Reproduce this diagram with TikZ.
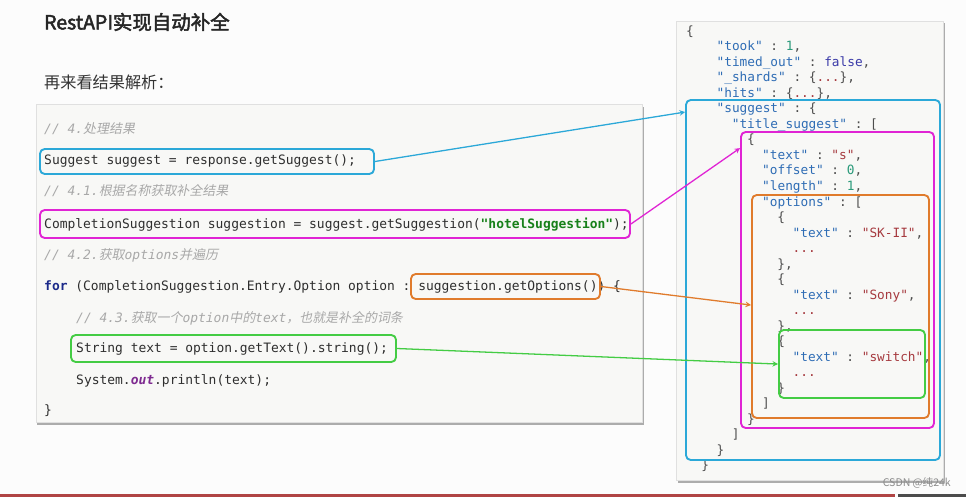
\documentclass[tikz,border=0pt]{standalone}
\usepackage{fontspec}
\setmonofont{DejaVu Sans Mono}
\newfontfamily\cjk[AutoFakeBold=2.5,AutoFakeSlant=0.2]{Noto Sans CJK SC}
\usetikzlibrary{arrows,fit,calc}

\definecolor{cblue}{HTML}{2BA8D8}
\definecolor{cmag}{HTML}{E024D4}
\definecolor{corange}{HTML}{E07B2C}
\definecolor{cgreen}{HTML}{44CC44}
\definecolor{ctext}{HTML}{2E2E2E}
\definecolor{ccom}{HTML}{A8A8A8}
\definecolor{ckey}{HTML}{2F6DB5}
\definecolor{cstr}{HTML}{A63A3F}
\definecolor{cnum}{HTML}{2A9A7A}
\definecolor{cbool}{HTML}{3A3AA8}
\definecolor{cfor}{HTML}{1B2A8A}
\definecolor{cout}{HTML}{7E2A90}
\definecolor{chotel}{HTML}{18801A}
\definecolor{cpanel}{HTML}{F8F8F6}
\definecolor{cshadow}{HTML}{ACACAC}
\definecolor{cred}{HTML}{B04444}

% json tokens
\newcommand{\jk}[1]{\textcolor{ckey}{"#1"}}
\newcommand{\js}[1]{\textcolor{cstr}{"#1"}}
\newcommand{\jn}[1]{\textcolor{cnum}{#1}}
\newcommand{\jd}{\textcolor{cstr}{...}}
% comment in java code
\newcommand{\jcom}[1]{\textcolor{ccom}{\itshape #1}}

\begin{document}
\begin{tikzpicture}[
x=0.3mm,y=-0.3mm,
>=stealth,
code/.style={
	anchor=base west,
	inner sep=0pt,
	text=ctext,
	font=\ttfamily\fontsize{11.05}{13}\selectfont
},
json/.style={
	anchor=base west,
	inner sep=0pt,
	text=ctext!85,
	font=\ttfamily\fontsize{10.9}{13}\selectfont
},
box/.style={
	draw=#1,
	line width=1.6pt,
	rounded corners=4pt,
	inner sep=0pt
},
link/.style={
	->,
	draw=#1,
	line width=1.1pt
}
]
\useasboundingbox (0,0) rectangle (966,497);
\fill[white!98!gray] (0,0) rectangle (966,497);

% headings
\node[anchor=west,inner sep=0pt,text=black!85,font=\cjk\bfseries\fontsize{16.6}{18}\selectfont] (title) at (44,22) {RestAPI实现自动补全};
\node[anchor=west,inner sep=0pt,text=black!80,font=\cjk\fontsize{13.8}{15}\selectfont] (sub) at (44,82) {再来看结果解析：};

% left panel
\fill[cshadow] (37,107) rectangle (644,425);
\filldraw[fill=cpanel,draw=black!12] (36,104) rectangle (642,422);

\node[code] (c1) at (44,134) {\jcom{// 4.{\cjk 处理结果}}};
\node[code] (c2) at (44,165) {Suggest suggest = response.getSuggest();};
\node[code] (c3) at (44,196) {\jcom{// 4.1.{\cjk 根据名称获取补全结果}}};
\node[code] (c4) at (44,228) {CompletionSuggestion suggestion = suggest.getSuggestion(\textcolor{chotel}{\bfseries"hotelSuggestion"});};
\node[code] (c5) at (44,259) {\jcom{// 4.2.{\cjk 获取}options{\cjk 并遍历}}};
\node[code] (c6) at (44,290) {\textcolor{cfor}{\bfseries for} (CompletionSuggestion.Entry.Option option : suggestion.getOptions()) \{};
\node[code] (c7) at (76,322) {\jcom{// 4.3.{\cjk 获取一个}option{\cjk 中的}text{\cjk ，也就是补全的词条}}};
\node[code] (c8) at (76,352) {String text = option.getText().string();};
\node[code] (c9) at (76,384) {System.\textcolor{cout}{\bfseries\itshape out}.println(text);};
\node[code] (c10) at (44,414) {\}};

\node[box=cblue,fit={(40,149) (374,174)}] (sug) {};
\node[box=cmag,fit={(40,210) (630,238)}] (comp) {};
\node[box=corange,fit={(411,274) (600,299)}] (opt) {};
\node[box=cgreen,fit={(71,335) (396,362)}] (txt) {};

% right panel
\fill[cshadow] (678,23) rectangle (945,483);
\filldraw[fill=cpanel,draw=black!12] (676,21) rectangle (943,480);

\foreach \n/\i/\t in {
	0/0/{\{},
	1/4/{\jk{took} : \jn{1},},
	2/4/{\jk{timed\_out} : \textcolor{cbool}{false},},
	3/4/{\jk{\_shards} : \{\jd\},},
	4/4/{\jk{hits} : \{\jd\},},
	5/4/{\jk{suggest} : \{},
	6/6/{\jk{title\_suggest} : [},
	7/8/{\{},
	8/10/{\jk{text} : \js{s},},
	9/10/{\jk{offset} : \jn{0},},
	10/10/{\jk{length} : \jn{1},},
	11/10/{\jk{options} : [},
	12/12/{\{},
	13/14/{\jk{text} : \js{SK-II},},
	14/14/{\jd},
	15/12/{\},},
	16/12/{\{},
	17/14/{\jk{text} : \js{Sony},},
	18/14/{\jd},
	19/12/{\},},
	20/12/{\{},
	21/14/{\jk{text} : \js{switch},},
	22/14/{\jd},
	23/12/{\}},
	24/10/{]},
	25/8/{\}},
	26/6/{]},
	27/4/{\}},
	28/2/{\}}}
\node[json] (l\n) at (686+7.6*\i,35.5+15.5*\n) {\t};

\node[box=cblue,fit={(686,100) (940,460)}] (jsug) {};
\node[box=cmag,fit={(741,132) (934,428)}] (jcomp) {};
\node[box=corange,fit={(752,195) (929,418)}] (jopt) {};
\node[box=cgreen,fit={(779,330) (925,398)}] (jtxt) {};

\draw[link=cblue] (sug.east) -- ($(jsug.north west)+(0,13)$);
\draw[link=cmag] (comp.east) -- ($(jcomp.north west)+(0,17)$);
\draw[link=corange] (opt.east) -- ($(jopt.north west)+(0,111)$);
\draw[link=cgreen] (txt.east) -- ($(jtxt.north west)+(0,35)$);

% bottom strip
\fill[cred] (0,494) rectangle (895,497);
\fill[black!70] (898,494) rectangle (966,497);
\node[anchor=east,inner sep=0pt,text=black!45,font=\cjk\fontsize{9}{10}\selectfont] (mark) at (951,483) {CSDN @纯24k};
\end{tikzpicture}
\end{document}
